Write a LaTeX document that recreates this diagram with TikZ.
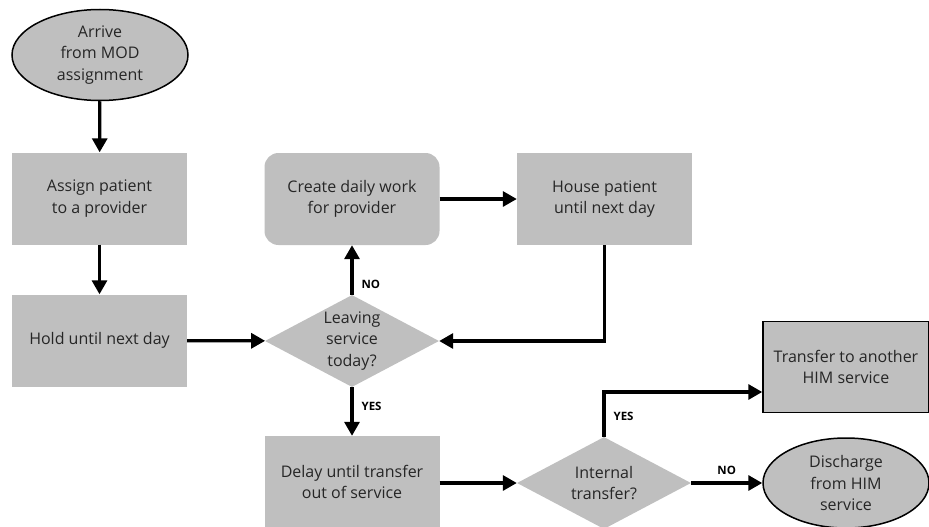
\documentclass[tikz,border=0pt]{standalone}
\usepackage{fontspec}
\setmainfont{Open Sans}
\usetikzlibrary{shapes.geometric,arrows.meta}
\definecolor{boxgray}{RGB}{191,191,191}
\begin{document}
\begin{tikzpicture}[x=1pt,y=-1pt,
  every node/.style={font=\fontsize{16}{21.5}\selectfont, align=center, inner sep=0pt, text=black!85},
  procbox/.style={fill=boxgray, minimum width=175pt, minimum height=92pt},
  roundbox/.style={procbox, rounded corners=14pt},
  outbox/.style={procbox, draw=black, line width=1.5pt},
  term/.style={ellipse, fill=boxgray, draw=black, line width=1.5pt},
  decide/.style={diamond, fill=boxgray, minimum width=174pt, minimum height=92pt, aspect=1.9},
  conn/.style={line width=3.2pt, -{Triangle[length=14pt,width=15pt]}},
  lbl/.style={font=\fontsize{11.5}{13}\selectfont\bfseries, text=black}
]
\useasboundingbox (0,0) rectangle (929,527);
\node[term, minimum width=176pt, minimum height=91pt] (arrive) at (100,55) {Arrive\\from MOD\\assignment};
\node[procbox] (assign) at (99.5,198.5) {Assign patient\\to a provider};
\node[procbox] (hold) at (99.5,340.5) {Hold until next day};
\node[decide] (leave) at (352,341) {Leaving\\service\\today?};
\node[roundbox] (create) at (352,199) {Create daily work\\for provider};
\node[procbox] (house) at (604.5,199) {House patient\\until next day};
\node[procbox] (delay) at (352,482) {Delay until transfer\\out of service};
\node[decide] (internal) at (604,483) {Internal\\transfer?};
\node[outbox, minimum width=166pt, minimum height=91pt] (transfer) at (846,367) {Transfer to another\\HIM service};
\node[term, minimum width=166pt, minimum height=90pt] (discharge) at (846,483) {Discharge\\from HIM\\service};
\coordinate (tin) at ([yshift=-25pt]transfer.west);

\draw[conn] (arrive) -- (assign);
\draw[conn] (assign) -- (hold);
\draw[conn] (hold) -- (leave);
\draw[conn] (leave) -- node[lbl, right=8pt, pos=0.22] {NO} (create);
\draw[conn] (create) -- (house);
\draw[conn] (house.south) -- (house.south |- leave.east) -- (leave.east);
\draw[conn] (leave) -- node[lbl, right=8pt, pos=0.4] {YES} (delay);
\draw[conn] (delay.east |- internal.west) -- (internal.west);
\draw[conn] (internal.north) -- node[lbl, right=8pt, pos=0.45] {YES} (internal.north |- tin) -- (tin);
\draw[conn] (internal.east) -- node[lbl, above=7pt] {NO} (discharge.west);
\end{tikzpicture}
\end{document}
